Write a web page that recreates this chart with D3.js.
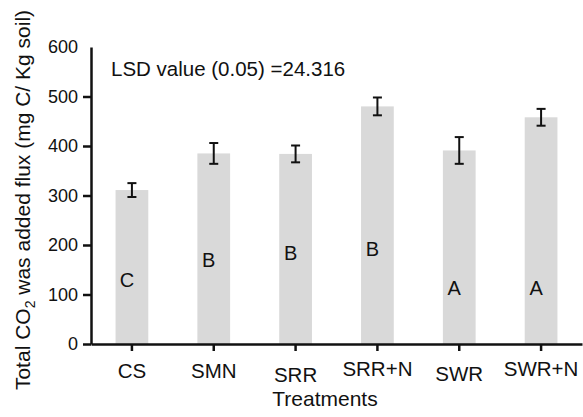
<!DOCTYPE html>
<html>
<head>
<meta charset="utf-8">
<script src="https://cdn.jsdelivr.net/npm/d3@7"></script>
<style>
  body { margin: 0; background: #fff; }
  text { font-family: "Liberation Sans", Arial, sans-serif; fill: #111; }
</style>
</head>
<body>
<svg id="chart" width="583" height="417"></svg>
<script>
var treatments = ["CS", "SMN", "SRR", "SRR+N", "SWR", "SWR+N"]
var fluxMeans = [311, 385, 384, 480, 391, 458]
var fluxErrors = [14, 21, 17, 18, 27, 17]
var groupLetters = ["C", "B", "B", "B", "A", "A"]
var letterValues = [129, 170, 184, 192, 113, 113]
var yTicks = [0, 100, 200, 300, 400, 500, 600]

var width = 583
var height = 417
var margin = { top: 47, right: 1, bottom: 73, left: 91 }
var svg = d3.select("#chart")

var xScale = d3.scaleBand()
    .domain(treatments)
    .range([margin.left, width - margin.right])
    .paddingInner(0.6)
    .paddingOuter(0.3)

var yScale = d3.scaleLinear()
    .domain([0, 600])
    .range([height - margin.bottom, margin.top])

var data = treatments.map(function (t, i) {
    return { key: t, value: fluxMeans[i], err: fluxErrors[i], letter: groupLetters[i], lv: letterValues[i] }
})

// bars
svg.selectAll("rect.bar")
    .data(data)
    .enter()
    .append("rect")
    .attr("class", "bar")
    .attr("x", function (d) { return xScale(d.key) })
    .attr("y", function (d) { return yScale(d.value) })
    .attr("width", xScale.bandwidth())
    .attr("height", function (d) { return yScale(0) - yScale(d.value) })
    .attr("fill", "#d9d9d9")

// error bars
var cap = 4.5
function cx(d) { return xScale(d.key) + xScale.bandwidth() / 2 }
var eb = svg.selectAll("g.err")
    .data(data)
    .enter()
    .append("g")
    .attr("class", "err")
    .attr("stroke", "#111")
    .attr("stroke-width", 2)
eb.append("line")
    .attr("x1", cx)
    .attr("x2", cx)
    .attr("y1", function (d) { return yScale(d.value + d.err) })
    .attr("y2", function (d) { return yScale(d.value - d.err) })
eb.append("line")
    .attr("x1", function (d) { return cx(d) - cap })
    .attr("x2", function (d) { return cx(d) + cap })
    .attr("y1", function (d) { return yScale(d.value + d.err) })
    .attr("y2", function (d) { return yScale(d.value + d.err) })
eb.append("line")
    .attr("x1", function (d) { return cx(d) - cap })
    .attr("x2", function (d) { return cx(d) + cap })
    .attr("y1", function (d) { return yScale(d.value - d.err) })
    .attr("y2", function (d) { return yScale(d.value - d.err) })

// group letters
svg.selectAll("text.letter")
    .data(data)
    .enter()
    .append("text")
    .attr("class", "letter")
    .attr("x", function (d) { return cx(d) - 5 })
    .attr("y", function (d) { return yScale(d.lv) })
    .attr("dy", "0.36em")
    .attr("text-anchor", "middle")
    .attr("font-size", 20)
    .text(function (d) { return d.letter })

// axes
var xAxis = d3.axisBottom(xScale).tickSize(7).tickSizeOuter(0)
var yAxis = d3.axisLeft(yScale).tickValues(yTicks).tickSize(8).tickSizeOuter(0).tickPadding(5)

var gx = svg.append("g")
    .attr("transform", "translate(0," + yScale(0) + ")")
    .call(xAxis)
var gy = svg.append("g")
    .attr("transform", "translate(" + margin.left + ",0)")
    .call(yAxis)

gx.select(".domain").attr("stroke", "#111").attr("stroke-width", 2.5)
gy.select(".domain").attr("stroke", "#111").attr("stroke-width", 2.5)
gx.selectAll(".tick line").attr("stroke", "#111").attr("stroke-width", 2.5)
gy.selectAll(".tick line").attr("stroke", "#111").attr("stroke-width", 2.5)
// top tick has no mark in the original
gy.selectAll(".tick").filter(function (d) { return d == 600 }).select("line").remove()

// label baselines wobble a little in the original
var labelBase = { "CS": 34, "SMN": 34, "SRR": 38, "SRR+N": 32, "SWR": 37, "SWR+N": 32 }
gx.selectAll(".tick text")
    .attr("font-size", 20.5)
    .attr("font-family", "Liberation Sans, Arial, sans-serif")
    .attr("fill", "#111")
    .attr("y", function (d) { return labelBase[d] })
    .attr("dy", 0)
gy.selectAll(".tick text")
    .attr("font-size", 18)
    .attr("font-family", "Liberation Sans, Arial, sans-serif")
    .attr("fill", "#111")

// x title
svg.append("text")
    .attr("x", 325)
    .attr("y", 406)
    .attr("text-anchor", "middle")
    .attr("font-size", 21)
    .text("Treatments")

// y title with subscript
var yTitle = svg.append("text")
    .attr("transform", "translate(30,200) rotate(-90)")
    .attr("text-anchor", "middle")
    .attr("font-size", 21)
yTitle.append("tspan").text("Total CO")
yTitle.append("tspan").attr("font-size", 14).attr("dy", 5).text("2")
yTitle.append("tspan").attr("dy", -5).text(" was added flux (mg C/ Kg soil)")

// LSD annotation
svg.append("text")
    .attr("x", 111)
    .attr("y", 76)
    .attr("font-size", 20.5)
    .text("LSD value (0.05) =24.316")
</script>
</body>
</html>
